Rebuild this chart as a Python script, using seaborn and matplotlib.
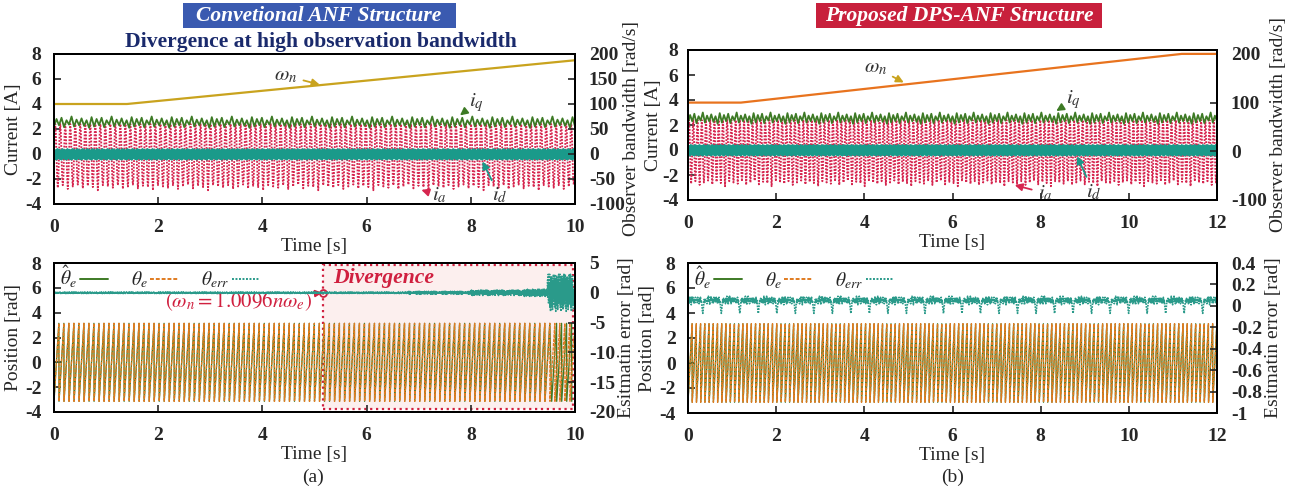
import numpy as np
import pandas as pd
import matplotlib
matplotlib.use("Agg")
import matplotlib.pyplot as plt
import seaborn as sns
from matplotlib.lines import Line2D
from matplotlib.patches import Rectangle

# ------------------------------------------------------------------
# Data
# ------------------------------------------------------------------
# observer bandwidth omega_n (right axis, rad/s): breakpoints
omega_t_a = [0.0, 1.4, 10.0]
omega_v_a = [100.0, 100.0, 187.5]
omega_t_b = [0.0, 1.2, 11.2, 12.0]
omega_v_b = [100.0, 100.0, 200.0, 200.0]

t_end_a = 10.0
t_end_b = 12.0
cycles_a = 104            # electrical cycles counted over 10 s
cycles_b = 125            # electrical cycles counted over 12 s

# one electrical cycle of phase current i_a [A]
ia_cycle = [0.0, 1.7, 2.4, 1.7, 0.0, -1.9, -2.7, -1.9]
ia_neg_peaks = [-2.7, -2.5, -2.8, -2.6, -2.45, -2.75, -2.55, -2.65, -2.9, -2.5, -2.6]
# i_q ripple, eight electrical cycles (two samples per cycle) [A]
iq_shape = [2.2, 2.8, 2.3, 2.9, 2.15, 2.7, 2.35, 3.0,
            2.2, 2.75, 2.3, 2.85, 2.25, 2.7, 2.1, 2.95]
# i_d band, one electrical cycle [A]
id_cycle = [0.35, -0.4, 0.3, -0.45, 0.4, -0.35]

# sawtooth position: fraction of cycle and value [rad]
saw_frac = [0.0, 0.97]
saw_vals = [-3.14, 3.14]
diverge_t = 9.45          # estimate starts to slip (a)
slip_frac = 0.35          # phase slip of estimate after divergence

# estimation error (a): noise shape and segment amplitudes [rad]
err_a_shape = [0.6, -0.4, 1.0, -0.8, 0.3, -1.0, 0.8, -0.5,
               0.9, -0.7, 0.2, -0.9, 0.7, -0.3, 1.0, -0.6]
err_a_period = 0.1
err_a_seg_start = [0.0, 6.8, 8.0, 9.0, 9.47]
err_a_seg_amp = [0.12, 0.25, 0.45, 0.6, 3.1]
err_a_end = 9.97

# estimation error (b): one ripple period [rad]
err_b_shape = [0.05, 0.02, 0.07, 0.03, 0.09, 0.04, 0.06, 0.01, 0.08, 0.05,
               0.09, 0.04, 0.07, 0.02, 0.06, 0.03, 0.08, 0.05, 0.04, 0.07,
               0.03, 0.08, 0.05, 0.06, 0.02, 0.07, 0.04, 0.08, 0.03, 0.05,
               0.0, -0.04, -0.07, -0.02, 0.02, 0.06, 0.03, 0.07, 0.04, 0.06]
err_b_period = 0.42

# ------------------------------------------------------------------
def tiled(shape, n_rep, period):
    shape = np.asarray(shape, float)
    m = len(shape)
    vals = np.tile(shape, n_rep)
    t = np.arange(n_rep * m) * period / m
    return t, vals


def ia_series(cycles, t_end):
    T = t_end / cycles
    t, v = tiled(ia_cycle, cycles, T)
    peaks = np.resize(np.asarray(ia_neg_peaks), cycles)
    v = v.reshape(cycles, len(ia_cycle))
    v[:, 6] = peaks
    return t, v.ravel()


def iq_series(cycles, t_end):
    T = t_end / cycles
    n = int(np.ceil(cycles / 8)) + 1
    t, v = tiled(iq_shape, n, 8 * T)
    m = t <= t_end
    return t[m], v[m]


def id_series(cycles, t_end):
    T = t_end / cycles
    return tiled(id_cycle, cycles, T)


def saw_series(cycles, t_end, slip_from=None, slip=0.0):
    T = t_end / cycles
    ts, vs = [], []
    for k in range(cycles + 1):
        shift = slip * T if (slip_from is not None and k * T >= slip_from) else 0.0
        for f, v in zip(saw_frac, saw_vals):
            tt = (k + f) * T + shift
            if tt <= t_end:
                ts.append(tt)
                vs.append(v)
    return np.array(ts), np.array(vs)


def err_a_series():
    n = int(np.ceil(err_a_end / err_a_period))
    t, v = tiled(err_a_shape, n, err_a_period)
    m = t <= err_a_end
    t, v = t[m], v[m]
    idx = np.searchsorted(err_a_seg_start, t, side="right") - 1
    amp = np.asarray(err_a_seg_amp)[idx]
    return t, v * amp


def err_b_series():
    n = int(np.ceil(t_end_b / err_b_period))
    t, v = tiled(err_b_shape, n, err_b_period)
    m = t <= t_end_b
    return t[m], v[m]


# ------------------------------------------------------------------
sns.set_theme(style="ticks")
plt.rcParams["font.family"] = ["Liberation Serif", "DejaVu Serif"]
plt.rcParams["mathtext.fontset"] = "stix"
plt.rcParams["axes.linewidth"] = 1.4

C_OMEGA_A = "#c9a31e"
C_OMEGA_B = "#e8731e"
C_IQ = "#3d7a25"
C_IA = "#d6264f"
C_ID = "#1a9a8a"
C_HAT = "#3d7a25"
C_TH = "#e07b20"
C_ERR = "#2a9a8a"
C_RED = "#d0203f"

FS = 14
W, H = 1299, 492

fig = plt.figure(figsize=(12.99, 4.92), dpi=100)


def px_box(x0, x1, y0, y1):
    return [x0 / W, 1 - y1 / H, (x1 - x0) / W, (y1 - y0) / H]


pos = {
    "a_up": px_box(54, 575, 54, 204),
    "a_lo": px_box(54, 575, 263, 412),
    "b_up": px_box(688, 1217, 50, 200),
    "b_lo": px_box(688, 1217, 263, 413),
}


def line(ax, t, v, **kw):
    sns.lineplot(x=np.asarray(t), y=np.asarray(v), ax=ax, estimator=None,
                 sort=False, errorbar=None, legend=False, **kw)


def style_axes(ax, ax2, t_end, xticks, rticks, rlabels, rlim, ylabel, rylabel,
               lpad=9, llabelpad=2, rlabelpad=2):
    ax.set_xlim(0, t_end)
    ax.set_ylim(-4, 8)
    ax.set_xticks(xticks)
    ax.set_yticks([-4, -2, 0, 2, 4, 6, 8])
    ax.set_xticklabels([str(x) for x in xticks], fontweight="bold", fontsize=FS)
    ax.set_yticklabels([str(y) for y in [-4, -2, 0, 2, 4, 6, 8]],
                       fontweight="bold", fontsize=FS)
    ax.tick_params(direction="in", length=5, width=1.2, top=False, right=False)
    ax.tick_params(axis="x", pad=11)
    ax.tick_params(axis="y", pad=lpad)
    ax.set_xlabel("Time [s]", fontsize=FS, labelpad=1)
    ax.set_ylabel(ylabel, fontsize=FS, labelpad=llabelpad)
    ax2.set_ylim(*rlim)
    ax2.set_yticks(rticks)
    ax2.set_yticklabels(rlabels, fontweight="bold", fontsize=FS)
    ax2.tick_params(direction="in", length=5, width=1.2, pad=10)
    ax2.set_ylabel(rylabel, fontsize=FS, labelpad=rlabelpad)
    for s in list(ax.spines.values()) + list(ax2.spines.values()):
        s.set_color("black")
    ax.set_facecolor("white")
    ax.grid(False)
    ax2.grid(False)


def upper_panel(key, cycles, t_end, om_t, om_v, om_color, rlim, rticks, ann,
                **style_kw):
    ax = fig.add_axes(pos[key])
    ax2 = ax.twinx()
    t, v = ia_series(cycles, t_end)
    line(ax, t, v, color=C_IA, lw=1.3, linestyle=(0, (1, 0.8)))
    t, v = iq_series(cycles, t_end)
    line(ax, t, v, color=C_IQ, lw=1.3)
    t, v = id_series(cycles, t_end)
    line(ax, t, v, color=C_ID, lw=1.4)
    line(ax2, om_t, om_v, color=om_color, lw=1.6)
    xt = list(range(0, int(t_end) + 1, 2))
    style_axes(ax, ax2, t_end, xt, rticks, [str(r) for r in rticks], rlim,
               "Current [A]", "Observer bandwidth [rad/s]", **style_kw)
    arrow = dict(arrowstyle="-|>", lw=1.3, mutation_scale=11)
    for txt, xy, xytext, col in ann:
        ax.annotate(txt, xy=xy, xytext=xytext, fontsize=FS + 1,
                    color="#333333", ha="center", va="center",
                    arrowprops=dict(arrow, color=col), zorder=10)
    return ax, ax2


ax_au, ax2_au = upper_panel(
    "a_up", cycles_a, t_end_a, omega_t_a, omega_v_a, C_OMEGA_A, (-100, 200),
    [-100, -50, 0, 50, 100, 150, 200],
    [(r"$\omega_n$", (5.15, 5.5), (4.45, 6.25), C_OMEGA_A),
     (r"$i_q$", (7.75, 2.95), (8.1, 4.1), C_IQ),
     (r"$i_a$", (7.0, -2.8), (7.4, -3.35), C_IA),
     (r"$i_d$", (8.2, -0.4), (8.55, -3.35), C_ID)],
    rlabelpad=-1)

ax_bu, ax2_bu = upper_panel(
    "b_up", cycles_b, t_end_b, omega_t_b, omega_v_b, C_OMEGA_B, (-100, 208),
    [-100, 0, 100, 200],
    [(r"$\omega_n$", (4.95, 5.3), (4.25, 6.6), C_OMEGA_A),
     (r"$i_q$", (8.3, 3.0), (8.75, 4.0), C_IQ),
     (r"$i_a$", (7.35, -2.75), (8.1, -3.45), C_IA),
     (r"$i_d$", (8.8, -0.3), (9.2, -3.4), C_ID)],
    lpad=7, llabelpad=0)


def lower_panel(key, cycles, t_end, err_t, err_v, rlim, rticks, rlabels,
                slip_from=None, **style_kw):
    ax = fig.add_axes(pos[key])
    ax2 = ax.twinx()
    t, v = saw_series(cycles, t_end, slip_from, slip_frac)
    line(ax, t, v, color=C_HAT, lw=0.95)
    t, v = saw_series(cycles, t_end)
    line(ax, t, v, color=C_TH, lw=0.95, linestyle=(0, (2.5, 0.8)))
    line(ax2, err_t, err_v, color=C_ERR, lw=1.2, linestyle=(0, (1, 0.7)))
    xt = list(range(0, int(t_end) + 1, 2))
    style_axes(ax, ax2, t_end, xt, rticks, rlabels, rlim,
               "Position [rad]", "Esitmatin error [rad]", **style_kw)
    handles = [Line2D([], [], color=C_HAT, lw=1.4),
               Line2D([], [], color=C_TH, lw=1.4, linestyle=(0, (2, 1))),
               Line2D([], [], color=C_ERR, lw=1.4, linestyle=(0, (1, 0.8)))]
    labels = [r"$\hat{\theta}_e$", r"$\theta_e$", r"$\theta_{err}$"]
    ax2.legend(handles, labels, loc="center left", ncol=3, frameon=False,
               markerfirst=False, fontsize=FS, handlelength=1.45,
               handletextpad=0.15, columnspacing=1.15,
               bbox_to_anchor=(0.0, 0.905), borderaxespad=0.0, borderpad=0.3)
    return ax, ax2


ta, va = err_a_series()
ax_al, ax2_al = lower_panel("a_lo", cycles_a, t_end_a, ta, va, (-20, 5),
                            [-20, -15, -10, -5, 0, 5],
                            ["-20", "-15", "-10", "-5", "0", "5"],
                            slip_from=diverge_t)
tb, vb = err_b_series()
ax_bl, ax2_bl = lower_panel("b_lo", cycles_b, t_end_b, tb, vb, (-1, 0.4),
                            [-1, -0.8, -0.6, -0.4, -0.2, 0, 0.2, 0.4],
                            ["-1", "-0.8", "-0.6", "-0.4", "-0.2", "0", "0.2", "0.4"])

# divergence box in (a)
box = Rectangle((5.17, -3.75), 9.97 - 5.17, 7.8 + 3.75, facecolor="#fcefee",
                edgecolor=C_RED, lw=1.6, linestyle=":", zorder=0.5)
ax_al.add_patch(box)
ax_al.text(5.35, 6.8, "Divergence", color=C_RED, fontsize=15.6,
           fontweight="bold", fontstyle="italic", va="center", ha="left", zorder=10)
ax_al.plot([5.17], [5.6], marker="o", ms=5, mfc="none", mec=C_RED, mew=1.3, zorder=11)
ax_al.annotate(r"$(\omega_n = 1.0096n\omega_e)$", xy=(5.15, 5.6), xytext=(3.55, 4.95),
               fontsize=FS + 1, color=C_RED, ha="center", va="center",
               arrowprops=dict(arrowstyle="-|>", color=C_RED, lw=1.3,
                               mutation_scale=10, shrinkB=3), zorder=10)

# headers
fig.patches.append(Rectangle((183 / W, 1 - 28 / H), 273 / W, 25 / H,
                             transform=fig.transFigure, facecolor="#3a5ab0",
                             edgecolor="none"))
fig.text(319 / W, 1 - 16 / H, "Convetional ANF Structure", color="white",
         fontsize=15.5, fontweight="bold", fontstyle="italic", ha="center",
         va="center")
fig.patches.append(Rectangle((816 / W, 1 - 28 / H), 286 / W, 25 / H,
                             transform=fig.transFigure, facecolor="#c8203c",
                             edgecolor="none"))
fig.text(959 / W, 1 - 16 / H, "Proposed DPS-ANF Structure", color="white",
         fontsize=15.5, fontweight="bold", fontstyle="italic", ha="center",
         va="center")
fig.text(321 / W, 1 - 42 / H, "Divergence at high observation bandwidth",
         color="#1a2a6c", fontsize=15.6, fontweight="bold", ha="center", va="center")

fig.text(313 / W, 1 - 477 / H, "(a)", fontsize=FS, ha="center", va="center")
fig.text(953 / W, 1 - 477 / H, "(b)", fontsize=FS, ha="center", va="center")

fig.savefig("out.png", dpi=100, facecolor="white")
